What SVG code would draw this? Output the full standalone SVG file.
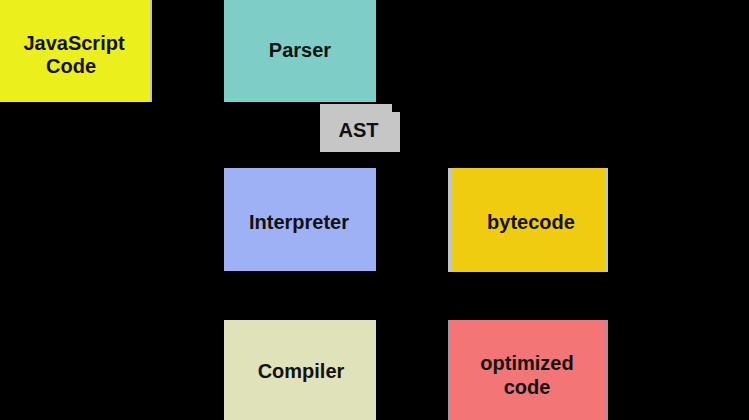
<svg xmlns="http://www.w3.org/2000/svg" width="749" height="420" viewBox="0 0 749 420">
<style>
.lbl{font-family:"Liberation Sans",Arial,sans-serif;font-weight:bold;font-size:20px;fill:#111;text-anchor:middle}
.edge{fill:none;stroke:#000;stroke-width:2}
.bd{fill:#c4c4c4}
</style>
<defs>
<marker id="arr" markerWidth="8" markerHeight="8" refX="7" refY="4" orient="auto"><path d="M0,0 L8,4 L0,8 z" fill="#000"/></marker>
</defs>
<rect width="749" height="420" fill="#000"/>
<g id="connectors">
<path class="edge" d="M152,45 L222,45" marker-end="url(#arr)"/>
<path class="edge" d="M360,102 L360,104"/>
<path class="edge" d="M360,152 L360,166" marker-end="url(#arr)"/>
<path class="edge" d="M376,220 L446,220" marker-end="url(#arr)"/>
<path class="edge" d="M300,271 L300,318" marker-end="url(#arr)"/>
<path class="edge" d="M376,370 L446,370" marker-end="url(#arr)"/>
</g>
<g id="js-code">
<rect class="bd" x="0" y="0" width="152" height="102"/>
<rect x="0" y="0" width="150" height="102" fill="#ebef1b"/>
<text class="lbl" x="74" y="50">JavaScript</text>
<text class="lbl" x="71" y="73">Code</text>
</g>
<g id="parser">
<rect x="224" y="0" width="152" height="102" fill="#7fcdc7"/>
<text class="lbl" x="300" y="57">Parser</text>
</g>
<g id="ast">
<rect x="320" y="104" width="72" height="10" fill="#c6c6c6"/>
<rect x="320" y="112" width="80" height="40" fill="#c6c6c6"/>
<text class="lbl" x="358.5" y="137">AST</text>
</g>
<g id="interpreter">
<rect x="224" y="168" width="152" height="103" fill="#9fb1f5"/>
<text class="lbl" x="299" y="229">Interpreter</text>
</g>
<g id="bytecode">
<rect class="bd" x="448" y="168" width="160" height="104"/>
<rect x="452" y="168" width="153" height="104" fill="#f0cc10"/>
<text class="lbl" x="531" y="229">bytecode</text>
</g>
<g id="compiler">
<rect x="224" y="320" width="152" height="100" fill="#e0e2b9"/>
<text class="lbl" x="301" y="378">Compiler</text>
</g>
<g id="optimized-code">
<rect fill="#9a9a9a" x="448" y="320" width="160" height="100"/>
<rect x="450" y="320" width="155" height="100" fill="#f47575"/>
<text class="lbl" x="527" y="370">optimized</text>
<text class="lbl" x="527" y="394">code</text>
</g>
</svg>
